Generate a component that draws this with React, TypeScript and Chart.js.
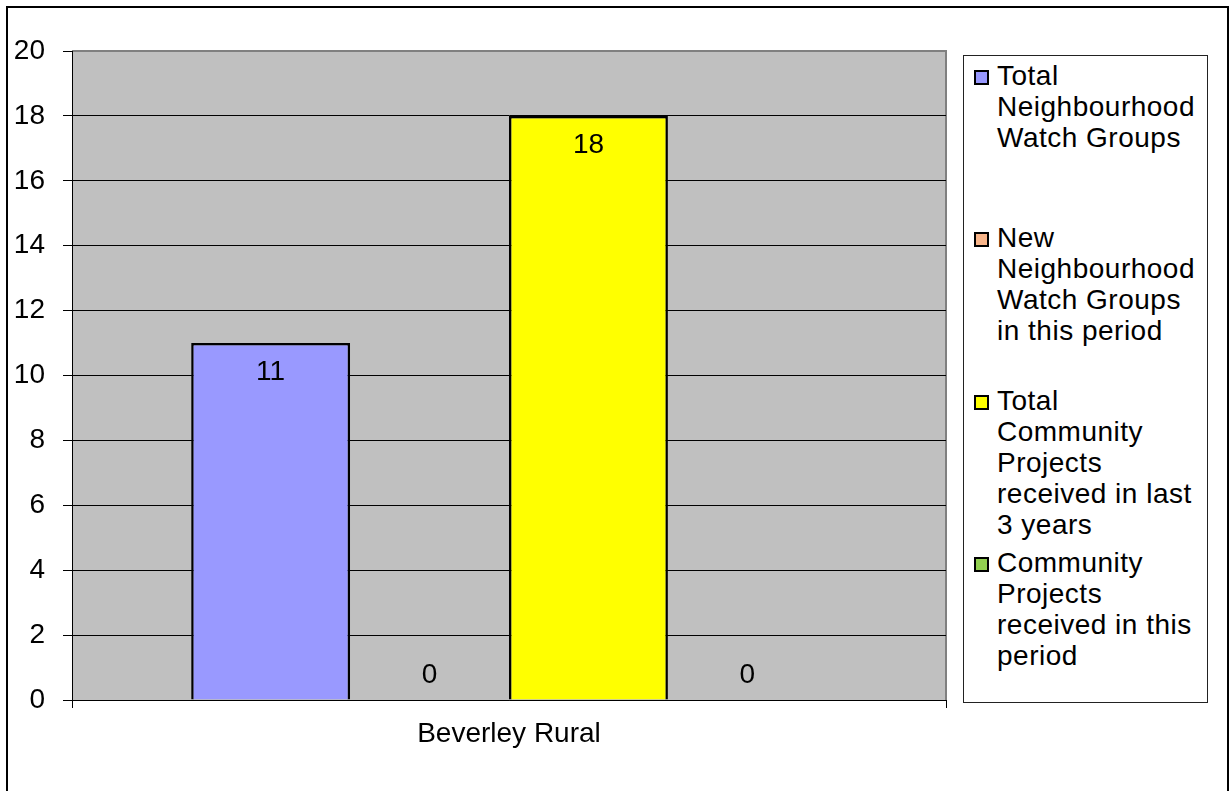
import React, { useEffect, useRef } from "react";
import { Chart, registerables } from "chart.js";

Chart.register(...registerables);

const categories = ["Beverley Rural"];
const seriesLegendLines: string[][] = [
  ["Total", "Neighbourhood", "Watch Groups"],
  ["New", "Neighbourhood", "Watch Groups", "in this period"],
  ["Total", "Community", "Projects", "received in last", "3 years"],
  ["Community", "Projects", "received in this", "period"],
];
const seriesNames = seriesLegendLines.map((l) => l.join(" "));
const seriesValues: number[][] = [[11], [0], [18], [0]];
const seriesColors = ["#9999FF", "#F8B58A", "#FFFF00", "#92D050"];
const yTickMin = 0;
const yTickMax = 20;
const yTickStep = 2;

const FONT = '"Liberation Sans", Arial, sans-serif';

export default function App() {
  const canvasRef = useRef<HTMLCanvasElement | null>(null);

  useEffect(() => {
    const canvas = canvasRef.current;
    if (!canvas) return;

    const plotBg = {
      id: "plotBg",
      beforeInit(chart: any) {
        try {
          chart.ctx.letterSpacing = "0.5px";
        } catch (e) {}
      },
      beforeDraw(chart: any) {
        const { ctx, chartArea } = chart;
        ctx.save();
        ctx.fillStyle = "#C0C0C0";
        ctx.fillRect(chartArea.left, chartArea.top, chartArea.right - chartArea.left, chartArea.bottom - chartArea.top);
        ctx.strokeStyle = "#808080";
        ctx.lineWidth = 2;
        ctx.beginPath();
        ctx.moveTo(chartArea.left, chartArea.top);
        ctx.lineTo(chartArea.right, chartArea.top);
        ctx.lineTo(chartArea.right, chartArea.bottom);
        ctx.stroke();
        ctx.restore();
      },
    };

    const valueLabels = {
      id: "valueLabels",
      afterDatasetsDraw(chart: any) {
        const { ctx } = chart;
        ctx.save();
        ctx.font = `28px ${FONT}`;
        ctx.fillStyle = "#000";
        ctx.textAlign = "center";
        ctx.textBaseline = "middle";
        chart.data.datasets.forEach((ds: any, i: number) => {
          const meta = chart.getDatasetMeta(i);
          meta.data.forEach((el: any, j: number) => {
            const v = ds.data[j];
            const y = v > 0 ? el.y + 29 : el.base - 25;
            ctx.fillText(String(v), el.x, y);
          });
        });
        ctx.restore();
      },
    };

    const chart = new Chart(canvas, {
      type: "bar",
      data: {
        labels: categories,
        datasets: seriesNames.map((name, i) => ({
          label: name,
          data: seriesValues[i],
          backgroundColor: seriesColors[i],
          borderColor: "#000",
          borderWidth: 2.5,
          barPercentage: 1,
          categoryPercentage: 4 / 5.5,
        })),
      },
      options: {
        responsive: false,
        animation: false,
        layout: { padding: { left: 0, top: 51, right: 286, bottom: 0 } },
        plugins: {
          legend: { display: false },
          tooltip: { enabled: false },
        },
        scales: {
          x: {
            offset: true,
            grid: {
              offset: true,
              drawOnChartArea: false,
              drawTicks: true,
              tickLength: 8,
              color: "#000",
              lineWidth: 1,
            },
            border: { display: true, color: "#000", width: 1 },
            ticks: {
              color: "#000",
              font: { family: FONT, size: 28 },
              padding: 9,
              maxRotation: 0,
            },
            afterFit(scale: any) {
              scale.height = 91;
            },
          },
          y: {
            min: yTickMin,
            max: yTickMax,
            ticks: {
              stepSize: yTickStep,
              color: "#000",
              font: { family: FONT, size: 28 },
              padding: 18,
            },
            grid: {
              color: (ctx: any) => (ctx.tick && ctx.tick.value === yTickMax ? "rgba(0,0,0,0)" : "#000"),
              lineWidth: 1,
              tickLength: 9,
              tickColor: "#000",
              drawTicks: true,
            },
            border: { display: true, color: "#000", width: 1 },
            afterFit(scale: any) {
              scale.width = 72;
            },
          },
        },
      },
      plugins: [plotBg, valueLabels],
    } as any);

    return () => chart.destroy();
  }, []);

  return (
    <div style={{ position: "absolute", left: 0, top: 0, width: 1232, height: 791, overflow: "hidden", background: "#fff" }}>
      <canvas
        ref={canvasRef}
        width={1232}
        height={791}
        style={{ position: "absolute", left: 0, top: 0, width: 1232, height: 791 }}
      />
      <div
        style={{
          position: "absolute",
          left: 6,
          top: 6,
          width: 1223,
          height: 785,
          boxSizing: "border-box",
          borderTop: "2px solid #000",
          borderLeft: "2px solid #000",
          borderRight: "2px solid #000",
          pointerEvents: "none",
        }}
      />
      <div
        style={{
          position: "absolute",
          left: 963,
          top: 55,
          width: 245,
          height: 648,
          boxSizing: "border-box",
          border: "1px solid #222",
          background: "#fff",
          fontFamily: FONT,
          fontSize: 28,
          lineHeight: "31px",
          letterSpacing: "0.5px",
          color: "#000",
        }}
      >
        {seriesLegendLines.map((lines, i) => (
          <div key={i} style={{ position: "absolute", left: 0, top: 4 + i * 162.3, width: 240 }}>
            <div
              style={{
                position: "absolute",
                left: 10,
                top: 10,
                width: 15,
                height: 15,
                boxSizing: "border-box",
                border: "2px solid #000",
                background: seriesColors[i],
              }}
            />
            <div style={{ position: "absolute", left: 33, top: 0, whiteSpace: "nowrap" }}>
              {lines.map((t, k) => (
                <div key={k}>{t}</div>
              ))}
            </div>
          </div>
        ))}
      </div>
    </div>
  );
}
